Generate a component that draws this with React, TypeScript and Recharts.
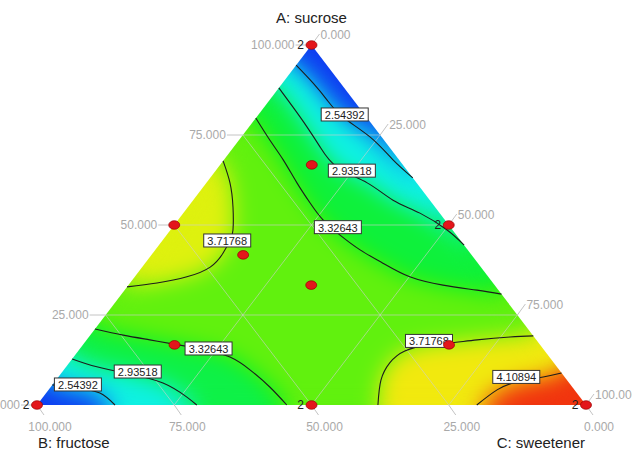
import React from 'react';
import { ScatterChart, Scatter, XAxis, YAxis } from 'recharts';

type Tern = [number, number, number]; // [A sucrose, B fructose, C sweetener] in %

const componentTitles = ['A: sucrose', 'B: fructose', 'C: sweetener'];
const axisTickValues = [0, 25, 50, 75, 100];
const axisTickLabels = ['0.000', '25.000', '50.000', '75.000', '100.000'];
const gridValues = [25, 50, 75];

const contourLevels = [2.54392, 2.93518, 3.32643, 3.71768, 4.10894];

// contour lines (ternary %, A/B/C)
const c254Top: Tern[] = [[94.4, 5.6, 0], [89.4, 5.0, 5.6], [84.7, 4.8, 10.5], [80.0, 4.3, 15.7], [74.4, 2.1, 23.5], [68.1, 1.1, 30.8], [63.1, 0, 36.9]];
const c294Top: Tern[] = [[88.1, 11.9, 0], [82.8, 12.0, 5.2], [77.2, 12.2, 10.6], [71.7, 12.6, 15.7], [66.1, 12.3, 21.6], [61.7, 9.0, 29.3], [56.9, 6.7, 36.4], [53.3, 3.6, 43.1], [48.6, 1.0, 50.4], [44.4, 0, 55.6]];
const c333Top: Tern[] = [[79.7, 20.3, 0], [73.6, 20.8, 5.6], [68.1, 21.1, 10.8], [61.7, 21.8, 16.5], [56.1, 22.2, 21.7], [51.4, 22.2, 26.4], [47.2, 21.2, 31.6], [43.1, 19.6, 37.3], [39.4, 17.3, 43.3], [35.6, 14.3, 50.1], [33.3, 9.4, 57.3], [31.9, 3.9, 64.2], [30.8, 0, 69.2]];
const c372Left: Tern[] = [[67.8, 32.2, 0], [61.7, 34.0, 4.3], [55.0, 36.8, 8.2], [48.6, 40.0, 11.4], [45.8, 41.9, 12.3], [42.2, 45.0, 12.8], [38.3, 49.3, 12.4], [35.6, 54.9, 9.5], [33.9, 61.2, 4.9], [32.8, 67.2, 0]];
const c333Low: Tern[] = [[21.1, 78.9, 0], [19.4, 74.6, 6.0], [18.1, 70.4, 11.5], [16.9, 66.6, 16.5], [15.3, 61.8, 22.9], [13.3, 58.2, 28.5], [9.7, 56.3, 34.0], [5.0, 55.1, 39.9], [0, 54.5, 45.5]];
const c294Low: Tern[] = [[12.8, 87.2, 0], [10.6, 83.8, 5.6], [8.6, 78.8, 12.6], [6.1, 74.0, 19.9], [2.2, 71.6, 26.2], [0, 70.9, 29.1]];
const c254Low: Tern[] = [[5.6, 94.4, 0], [4.7, 90.2, 5.1], [3.3, 86.9, 9.8], [0, 85.8, 14.2]];
const c372Right: Tern[] = [[0, 37.9, 62.1], [6.9, 33.9, 59.2], [11.7, 29.9, 58.4], [15.0, 25.5, 59.5], [16.7, 20.4, 62.9], [17.2, 16.5, 66.3], [18.1, 10.8, 71.1], [18.9, 4.4, 76.7], [19.2, 0, 80.8]];
const c411: Tern[] = [[0, 19.9, 80.1], [4.2, 14.1, 81.7], [6.4, 9.4, 84.2], [7.8, 3.9, 88.3], [8.9, 0, 91.1]];

const contourLines: { level: number; pts: Tern[] }[] = [
  { level: contourLevels[0], pts: c254Top },
  { level: contourLevels[1], pts: c294Top },
  { level: contourLevels[2], pts: c333Top },
  { level: contourLevels[3], pts: c372Left },
  { level: contourLevels[2], pts: c333Low },
  { level: contourLevels[1], pts: c294Low },
  { level: contourLevels[0], pts: c254Low },
  { level: contourLevels[3], pts: c372Right },
  { level: contourLevels[4], pts: c411 },
];

// contour label anchors (ternary %)
const contourLabelPos: Tern[] = [
  [80.7, 3.6, 15.7], [65.1, 10.1, 24.8], [49.4, 20.5, 30.1], [45.7, 42.5, 11.8],
  [15.7, 60.9, 23.4], [9.3, 77.0, 13.7], [5.7, 89.7, 4.6], [17.8, 19.7, 62.5], [7.8, 8.8, 83.4],
];
const contourLabelLevel = [0, 1, 2, 3, 2, 1, 0, 3, 4];

// design points and replicate counts
const designPoints: Tern[] = [
  [100, 0, 0], [0, 100, 0], [0, 0, 100], [50, 50, 0], [50, 0, 50], [0, 50, 50],
  [66.7, 16.7, 16.7], [16.7, 66.7, 16.7], [16.7, 16.7, 66.7], [33.3, 33.3, 33.3], [41.7, 41.7, 16.7],
];
const replicates = [2, 2, 2, 1, 2, 2, 1, 1, 1, 1, 1];

const vertices: Tern[] = [[100, 0, 0], [0, 100, 0], [0, 0, 100]];

const rev = (a: Tern[]) => [...a].reverse();

// filled regions between contours, with a representative response value
const bands: { pts: Tern[]; v: number }[] = [
  { pts: [vertices[0], ...c254Top], v: 2.22 },
  { pts: [...c254Top, ...rev(c294Top)], v: 2.74 },
  { pts: [...c294Top, ...rev(c333Top)], v: 3.18 },
  { pts: [...c333Top, ...rev(c372Right), ...rev(c333Low), ...rev(c372Left)], v: 3.52 },
  { pts: [...c372Left], v: 3.85 },
  { pts: [...c333Low, ...rev(c294Low)], v: 3.15 },
  { pts: [...c294Low, ...rev(c254Low)], v: 2.74 },
  { pts: [...c254Low, vertices[1]], v: 2.22 },
  { pts: [...c372Right, ...rev(c411)], v: 3.92 },
  { pts: [...c411, vertices[2]], v: 4.4 },
];

const toXY = (t: Tern) => ({ x: t[2] / 100 + t[0] / 200, y: t[0] / 100 });

function heat(v: number) {
  const t = Math.max(0, Math.min(1, (v - 2.1) / 2.4));
  let r = 0, g = 0, b = 0;
  if (t < 0.25) { r = 0; g = 255 * t / 0.25; b = 255; }
  else if (t < 0.5) { r = 0; g = 255; b = 255 * (1 - (t - 0.25) / 0.25); }
  else if (t < 0.75) { r = 255 * (t - 0.5) / 0.25; g = 255; b = 0; }
  else { r = 255; g = 255 * (1 - (t - 0.75) / 0.25); b = 0; }
  const f = (c: number) => Math.round(0.89 * c + 14);
  return `rgb(${f(r)},${f(g)},${f(b)})`;
}

const FONT = "Arial, 'Liberation Sans', Helvetica, sans-serif";

const fieldData = [
  ...vertices,
  ...bands.flatMap((b) => b.pts),
  ...contourLines.flatMap((c) => c.pts),
].map(toXY);

const gridData = gridValues.flatMap((v) => [
  toXY([v, 100 - v, 0]), toXY([v, 0, 100 - v]),
  toXY([0, v, 100 - v]), toXY([100 - v, v, 0]),
  toXY([100 - v, 0, v]), toXY([0, 100 - v, v]),
]);

const tickData = [
  ...axisTickValues.map((v, i) => ({ axis: 'A', label: axisTickLabels[i], ...toXY([v, 100 - v, 0]) })),
  ...axisTickValues.map((v, i) => ({ axis: 'B', label: axisTickLabels[i], ...toXY([0, v, 100 - v]) })),
  ...axisTickValues.map((v, i) => ({ axis: 'C', label: axisTickLabels[i], ...toXY([100 - v, 0, v]) })),
];

const titleData = vertices.map((t, i) => ({ idx: i, name: componentTitles[i], ...toXY(t) }));

const labelData = contourLabelPos.map((t, i) => ({ text: contourLevels[contourLabelLevel[i]].toFixed(5), ...toXY(t) }));

const pointData = designPoints.map((t, i) => ({ rep: replicates[i], ...toXY(t) }));

const Empty = () => <g />;

const polyD = (seg: { x: number; y: number }[]) => 'M' + seg.map((p) => `${p.x},${p.y}`).join('L');

function renderField(props: any) {
  const pts: { x: number; y: number }[] = props.points || [];
  if (pts.length < 3) return <g />;
  const tri = pts.slice(0, 3);
  let k = 3;
  const paths = bands.map((b, i) => {
    const seg = pts.slice(k, k + b.pts.length);
    k += b.pts.length;
    const c = heat(b.v);
    return <path key={'b' + i} d={polyD(seg) + 'Z'} fill={c} stroke={c} strokeWidth={1} />;
  });
  const ridges = contourLines.map((cl, i) => {
    const seg = pts.slice(k, k + cl.pts.length);
    k += cl.pts.length;
    return <path key={'c' + i} d={polyD(seg)} fill="none" stroke={heat(cl.level)} strokeWidth={7} strokeLinejoin="round" />;
  });
  return (
    <g>
      <defs>
        <clipPath id="triClip"><path d={polyD(tri) + 'Z'} /></clipPath>
        <filter id="fieldSmooth" x="-10%" y="-10%" width="120%" height="120%" colorInterpolationFilters="sRGB">
          <feGaussianBlur stdDeviation={10} />
          <feComponentTransfer>
            <feFuncA type="linear" slope={0} intercept={1} />
          </feComponentTransfer>
        </filter>
      </defs>
      <g clipPath="url(#triClip)">
        <g filter="url(#fieldSmooth)">{paths}{ridges}</g>
      </g>
    </g>
  );
}

function renderGrid(props: any) {
  const pts: { x: number; y: number }[] = props.points || [];
  const segs = [];
  for (let i = 0; i + 1 < pts.length; i += 2) {
    segs.push(<line key={i} x1={pts[i].x} y1={pts[i].y} x2={pts[i + 1].x} y2={pts[i + 1].y} stroke="#cfcfcf" strokeOpacity={0.6} strokeWidth={1} />);
  }
  return <g>{segs}</g>;
}

function TickShape(p: any) {
  const { cx, cy, payload } = p;
  const common = { fontFamily: FONT, fontSize: 12, fill: '#a9a9a9' };
  if (payload.axis === 'A') {
    return (
      <g>
        <line x1={cx - 16} y1={cy} x2={cx} y2={cy} stroke="#c4c4c4" />
        <text x={cx - 17} y={cy} textAnchor="end" dominantBaseline="central" {...common}>{payload.label}</text>
      </g>
    );
  }
  if (payload.axis === 'B') {
    return (
      <g>
        <line x1={cx} y1={cy} x2={cx + 7} y2={cy + 10} stroke="#c4c4c4" />
        <text x={cx + 13} y={cy + 22} textAnchor="middle" dominantBaseline="central" {...common}>{payload.label}</text>
      </g>
    );
  }
  return (
    <g>
      <line x1={cx} y1={cy} x2={cx + 8} y2={cy - 11} stroke="#c4c4c4" />
      <text x={cx + 9} y={cy - 10} textAnchor="start" dominantBaseline="central" {...common}>{payload.label}</text>
    </g>
  );
}

function TitleShape(p: any) {
  const { cx, cy, payload } = p;
  const common = { fontFamily: FONT, fontSize: 15, fill: '#222' };
  if (payload.idx === 0) return <text x={cx} y={cy - 28} textAnchor="middle" dominantBaseline="central" {...common}>{payload.name}</text>;
  if (payload.idx === 1) return <text x={cx + 1} y={cy + 37} textAnchor="start" dominantBaseline="central" {...common}>{payload.name}</text>;
  return <text x={cx - 1} y={cy + 37} textAnchor="end" dominantBaseline="central" {...common}>{payload.name}</text>;
}

function LabelShape(p: any) {
  const { cx, cy, payload } = p;
  return (
    <g>
      <rect x={cx - 23.5} y={cy - 6.5} width={47} height={13} fill="#fff" stroke="#333" strokeWidth={1} />
      <text x={cx} y={cy + 0.5} textAnchor="middle" dominantBaseline="central" fontFamily={FONT} fontSize={11} fill="#222">{payload.text}</text>
    </g>
  );
}

function PointShape(p: any) {
  const { cx, cy, payload } = p;
  return (
    <g>
      <ellipse cx={cx} cy={cy} rx={5.5} ry={4.3} fill="#e3161b" stroke="#9a0000" strokeWidth={0.7} />
      {payload.rep > 1 && (
        <text x={cx - 11} y={cy} textAnchor="middle" dominantBaseline="central" fontFamily={FONT} fontSize={12} fill="#222">{String(payload.rep)}</text>
      )}
    </g>
  );
}

export default function App() {
  return (
    <div style={{ position: 'absolute', left: 0, top: 0, width: 632, height: 454, background: '#fff' }}>
      <ScatterChart width={632} height={454} margin={{ top: 45, right: 46, bottom: 49, left: 37 }}>
        <XAxis type="number" dataKey="x" domain={[0, 1]} hide />
        <YAxis type="number" dataKey="y" domain={[0, 1]} hide />
        <Scatter data={fieldData} line={renderField} lineType="joint" shape={Empty} isAnimationActive={false} />
        <Scatter data={gridData} line={renderGrid} lineType="joint" shape={Empty} isAnimationActive={false} />
        {contourLines.map((c, i) => (
          <Scatter
            key={i}
            data={c.pts.map(toXY)}
            line={{ stroke: '#1c1c1c', strokeWidth: 1.1 }}
            lineType="joint"
            lineJointType="natural"
            shape={Empty}
            isAnimationActive={false}
          />
        ))}
        <Scatter data={labelData} shape={LabelShape} isAnimationActive={false} />
        <Scatter data={tickData} shape={TickShape} isAnimationActive={false} />
        <Scatter data={pointData} shape={PointShape} isAnimationActive={false} />
        <Scatter data={titleData} shape={TitleShape} isAnimationActive={false} />
      </ScatterChart>
    </div>
  );
}
